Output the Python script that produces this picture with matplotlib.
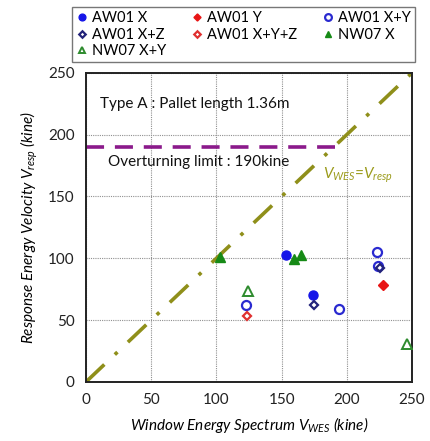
import matplotlib

matplotlib.use("Agg")

import matplotlib.pyplot as plt

plt.rcParams["font.family"] = ["Lato", "DejaVu Sans"]
plt.rcParams["mathtext.fontset"] = "custom"
plt.rcParams["mathtext.it"] = "Lato:italic"
plt.rcParams["mathtext.rm"] = "Lato"

# ---- data -----------------------------------------------------------------
aw01_x_wes = [153, 174]
aw01_x_resp = [102.5, 70]
aw01_y_wes = [228]
aw01_y_resp = [78]
aw01_xy_wes = [123, 194, 223, 224]
aw01_xy_resp = [62, 59, 105, 94]
aw01_xz_wes = [174.5, 225.5]
aw01_xz_resp = [62.5, 92]
aw01_xyz_wes = [123.5]
aw01_xyz_resp = [53]
nw07_x_wes = [103, 159.5, 165]
nw07_x_resp = [101, 99.5, 102.5]
nw07_xy_wes = [124, 246]
nw07_xy_resp = [73.5, 31]

limit_value = 190
limit_end = 191
ticks = [0, 50, 100, 150, 200, 250]

fig = plt.figure(figsize=(4.31, 4.41), dpi=100, facecolor="white")
ax = fig.add_axes([0.1995, 0.134, 0.7565, 0.701])

ax.grid(True, color="#909090", ls=(0, (1, 1)), lw=0.8)
ax.set_axisbelow(True)

# reference lines
ax.plot([0, 250], [0, 250], color="#8F8F1A", lw=2.6,
        ls=(0, (7, 4, 1, 4)), zorder=2)
ax.plot([0, limit_end], [limit_value, limit_value], color="#8B1A8B",
        lw=2.6, ls=(0, (5, 3)), zorder=2)

ms = 6.5
h1, = ax.plot(aw01_x_wes, aw01_x_resp, "o", color="#1515E8", ms=ms,
              label="AW01 X", zorder=3)
h2, = ax.plot(aw01_y_wes, aw01_y_resp, "D", color="#E81515", ms=4.8,
              label="AW01 Y", zorder=3)
h3, = ax.plot(aw01_xy_wes, aw01_xy_resp, "o", mfc="none", mec="#2A2AD0",
              mew=1.6, ms=ms, label="AW01 X+Y", zorder=3)
h4, = ax.plot(aw01_xz_wes, aw01_xz_resp, "D", mfc="none", mec="#23237A",
              mew=1.6, ms=4.4, label="AW01 X+Z", zorder=3)
h5, = ax.plot(aw01_xyz_wes, aw01_xyz_resp, "D", mfc="none", mec="#E03030",
              mew=1.6, ms=4.4, label="AW01 X+Y+Z", zorder=3)
h6, = ax.plot(nw07_x_wes, nw07_x_resp, "^", color="#168A16", ms=ms,
              label="NW07 X", zorder=3)
h7, = ax.plot(nw07_xy_wes, nw07_xy_resp, "^", mfc="none", mec="#2E8B2E",
              mew=1.4, ms=ms, label="NW07 X+Y", zorder=3)

ax.set_xlim(0, 250)
ax.set_ylim(0, 250)
ax.set_xticks(ticks)
ax.set_yticks(ticks)
ax.tick_params(length=0, labelsize=11, pad=8, colors="#222222")
for s in ax.spines.values():
    s.set_linewidth(1.4)
    s.set_color("#222222")

ax.text(11, 225, "Type A : Pallet length 1.36m", fontsize=11,
        va="center", ha="left", color="#111111")
ax.text(17, 178, "Overturning limit : 190kine", fontsize=11,
        va="center", ha="left", color="#111111")
ax.text(182, 167, r"$V_{WES}$=$V_{resp}$", fontsize=11, color="#9B9B1B",
        va="center", ha="left", style="italic")

ax.set_xlabel(r"Window Energy Spectrum $V_{WES}$ (kine)", fontsize=11,
              style="italic", labelpad=6)
ax.set_ylabel(r"Response Energy Velocity $V_{resp}$ (kine)", fontsize=11,
              style="italic", labelpad=6)

# legend laid out row by row (matplotlib fills column-wise)
handles = [h1, h4, h7, h2, h5, h3, h6]
fig.legend(handles=handles, labels=[h.get_label() for h in handles],
           ncol=3, loc="upper left", bbox_to_anchor=(0.167, 0.984, 0.796, 0.0),
           mode="expand", fontsize=10.5, frameon=True, fancybox=False,
           edgecolor="#555555", handlelength=0.8, handletextpad=0.3,
           borderpad=0.3, labelspacing=0.15, borderaxespad=0.0,
           columnspacing=0.8, markerscale=0.75)

fig.savefig("out.png", dpi=100)
